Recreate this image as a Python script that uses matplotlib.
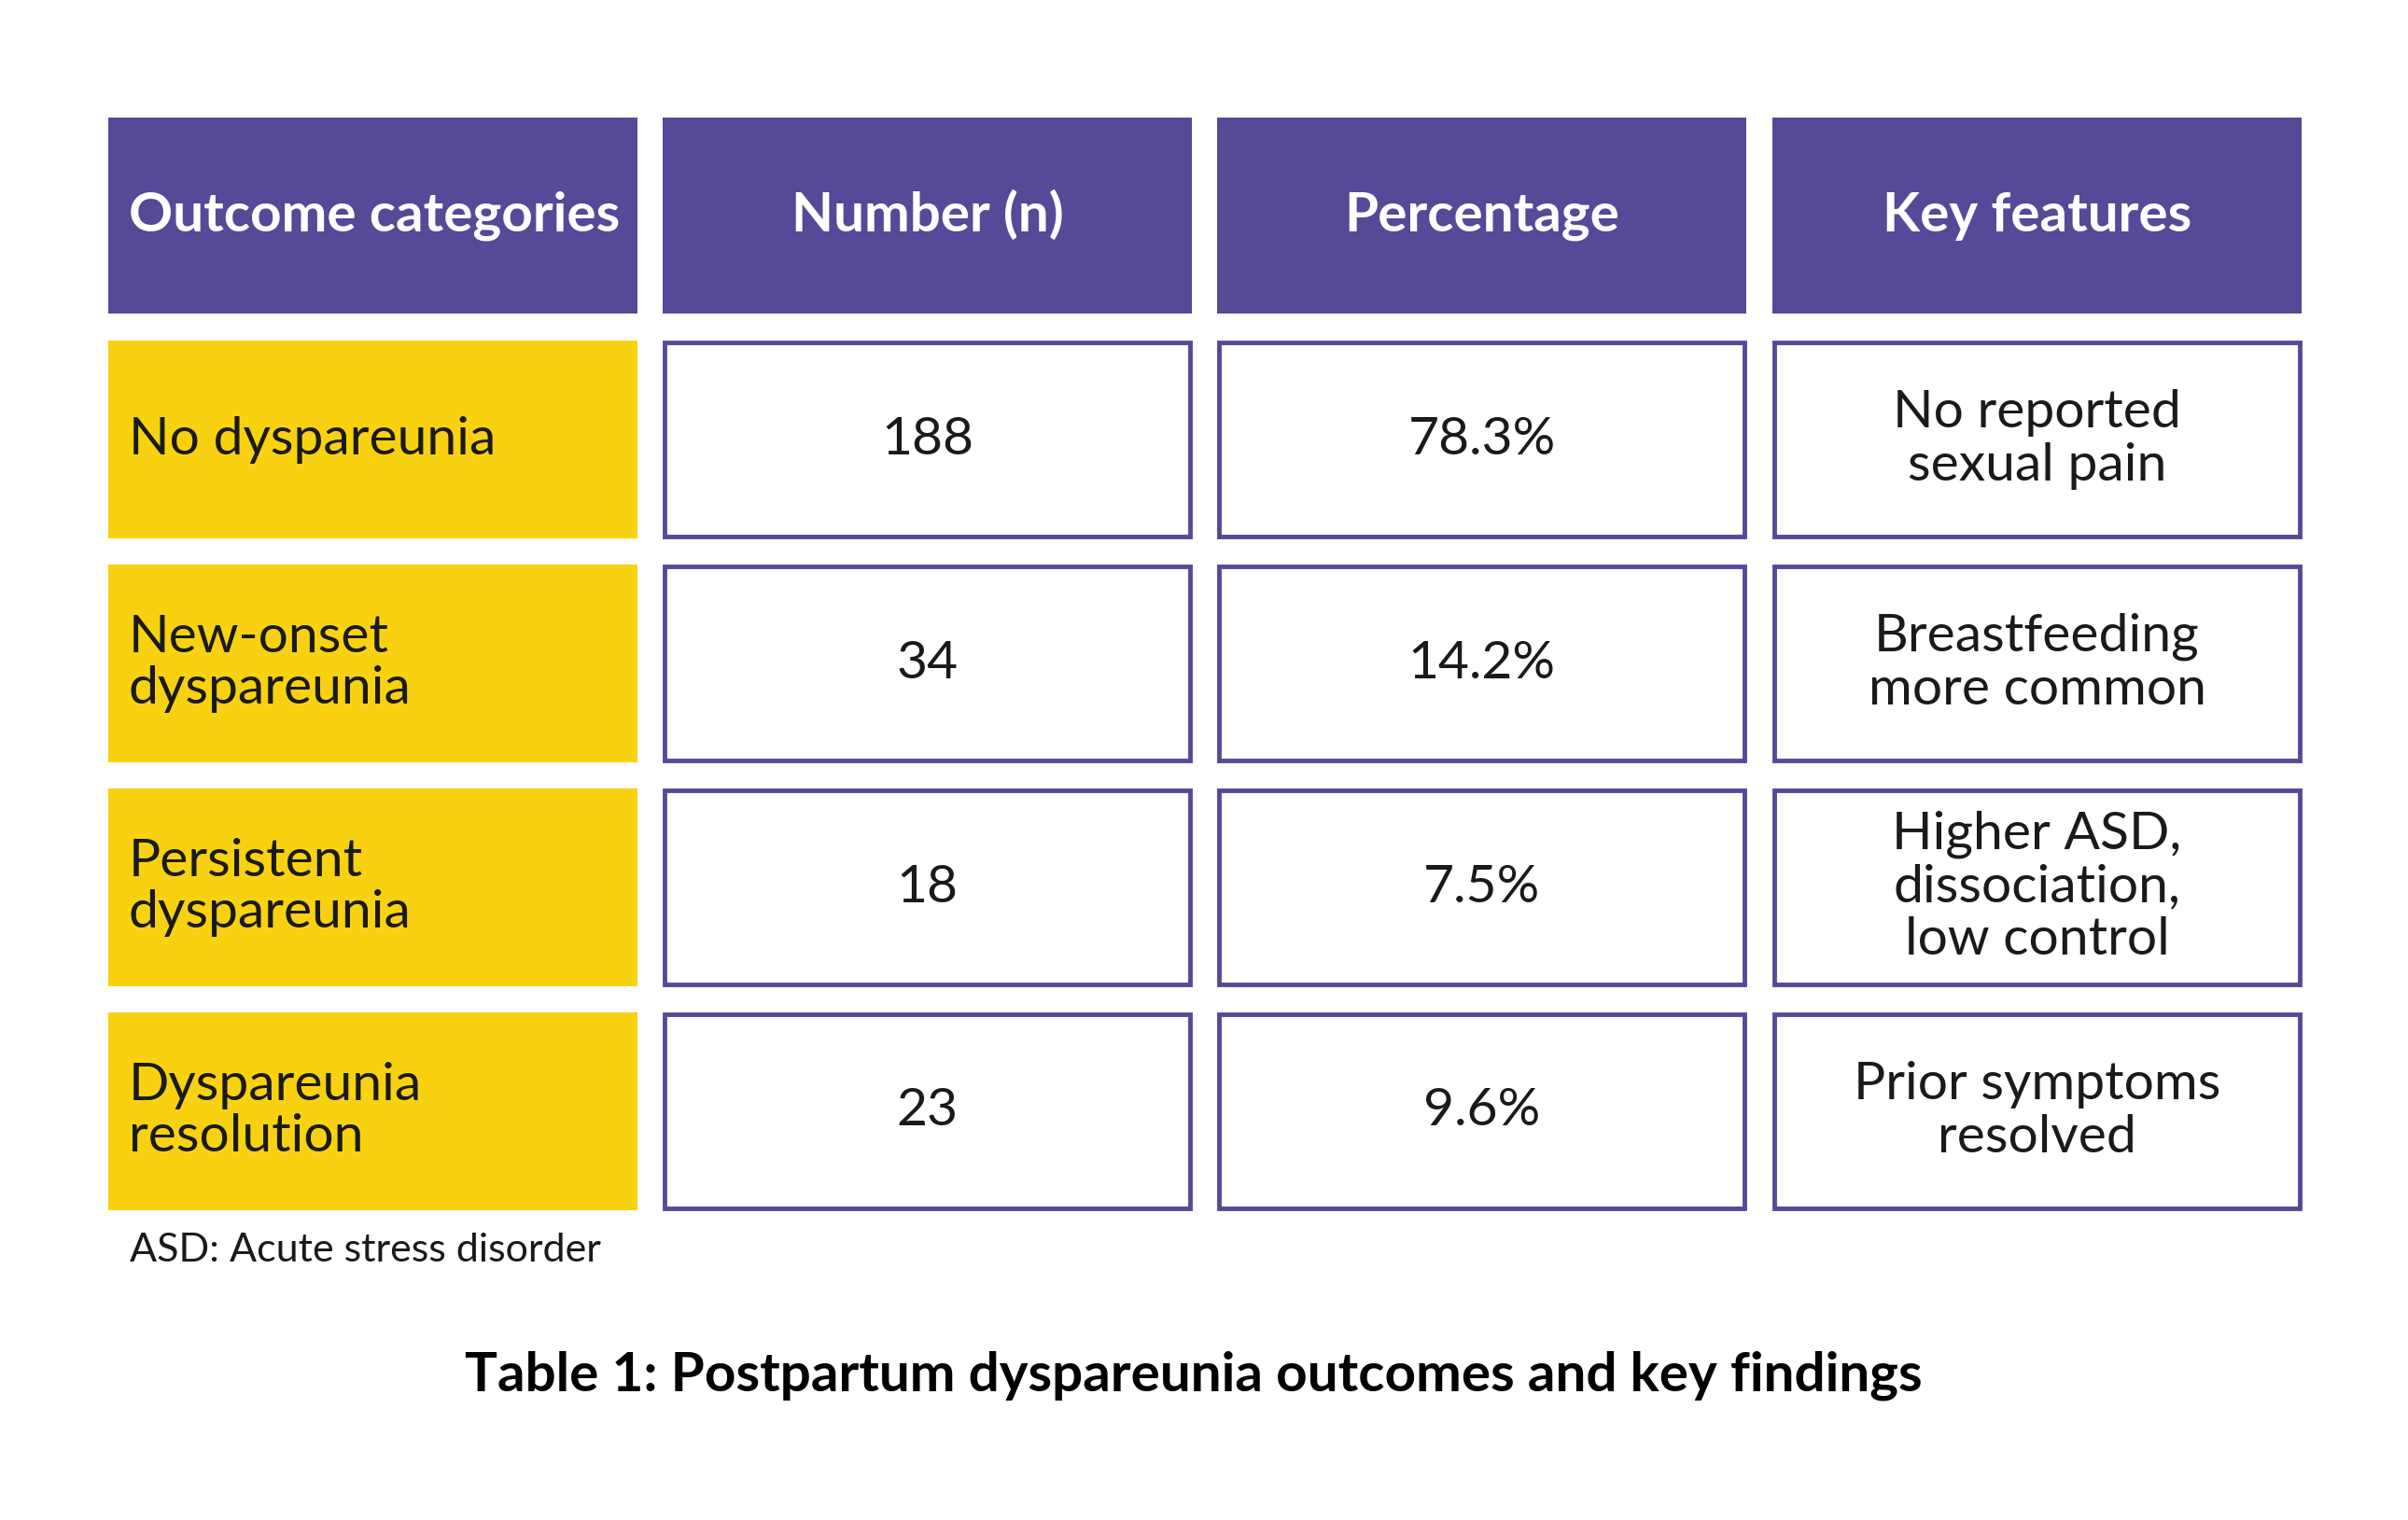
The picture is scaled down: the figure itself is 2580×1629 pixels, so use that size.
import matplotlib.pyplot as plt
from matplotlib.patches import Rectangle

# data
headers = ['Outcome categories', 'Number (n)', 'Percentage', 'Key features']
categories = ['No dyspareunia', 'New-onset\ndyspareunia', 'Persistent\ndyspareunia',
              'Dyspareunia\nresolution']
numbers = [188, 34, 18, 23]
percentages = ['78.3%', '14.2%', '7.5%', '9.6%']
features = ['No reported\nsexual pain', 'Breastfeeding\nmore common',
            'Higher ASD,\ndissociation,\nlow control', 'Prior symptoms\nresolved']
footnote = 'ASD: Acute stress disorder'
title = 'Table 1: Postpartum dyspareunia outcomes and key findings'

# layout (pixels)
W, H = 2580, 1629
purple = '#574898'
yellow = '#F8D210'
col_x = [116, 710, 1304, 1899]
col_w = 567
head_y, head_h = 126, 210
row_y = [365, 605, 845, 1085]
row_h = 212

plt.rcParams['font.family'] = ['Lato', 'DejaVu Sans']

fig = plt.figure(figsize=(W / 100, H / 100), dpi=100)
ax = fig.add_axes([0, 0, 1, 1])
ax.set_xlim(0, W)
ax.set_ylim(H, 0)
ax.axis('off')

fs = 41

# header
for x, h in zip(col_x, headers):
    ax.add_patch(Rectangle((x, head_y), col_w, head_h, facecolor=purple, edgecolor='none'))
    if x == col_x[0]:
        ax.text(x + 22, head_y + head_h / 2, h, ha='left', va='center',
                fontsize=42, fontweight='bold', color='white')
    else:
        ax.text(x + col_w / 2, head_y + head_h / 2, h, ha='center', va='center',
                fontsize=42, fontweight='bold', color='white')

# body rows
for i, y in enumerate(row_y):
    ax.add_patch(Rectangle((col_x[0], y), col_w, row_h, facecolor=yellow, edgecolor='none'))
    ax.text(col_x[0] + 22, y + row_h / 2, categories[i], ha='left', va='center',
            fontsize=fs, color='#1a1a1a', linespacing=1.12)
    cells = [str(numbers[i]), percentages[i], features[i]]
    for x, txt in zip(col_x[1:], cells):
        ax.add_patch(Rectangle((x + 2, y + 2), col_w - 4, row_h - 4, facecolor='white',
                               edgecolor=purple, linewidth=3.5))
        ax.text(x + col_w / 2, y + row_h / 2, txt, ha='center', va='center',
                fontsize=fs, color='#1a1a1a', linespacing=1.14)

ax.text(139, 1340, footnote, ha='left', va='center', fontsize=31, color='#1a1a1a')
ax.text(1279, 1474, title, ha='center', va='center', fontsize=42,
        fontweight='bold', color='black')

fig.savefig('out.png', dpi=100, facecolor='white')
